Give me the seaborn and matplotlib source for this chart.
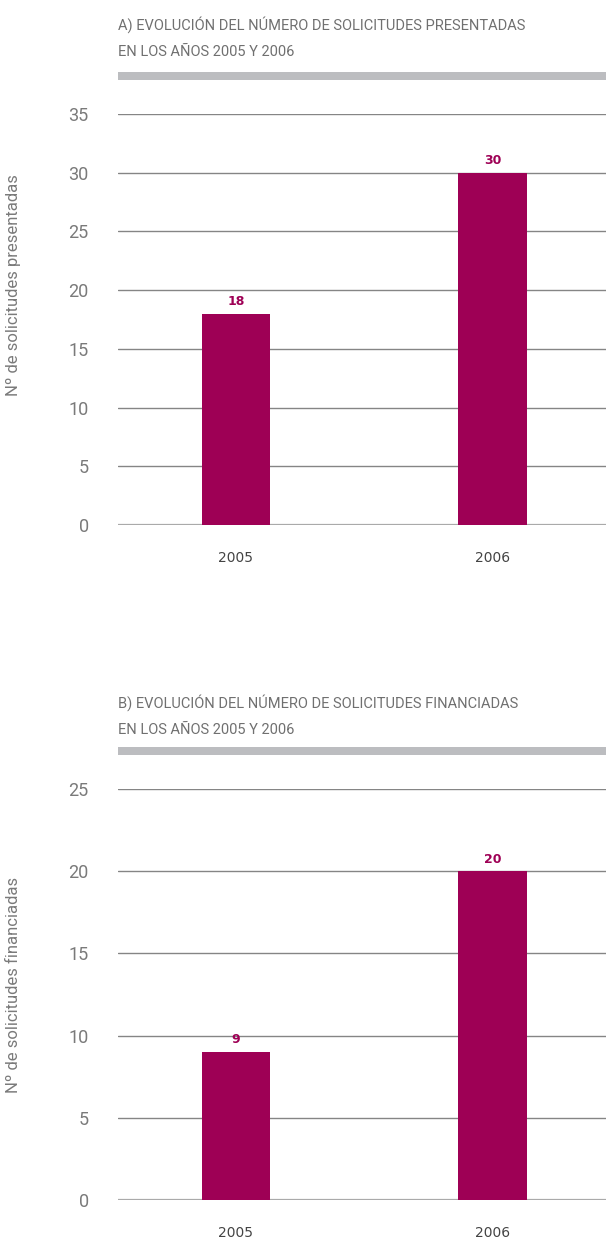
import matplotlib
matplotlib.use("Agg")
import matplotlib.pyplot as plt
from matplotlib.patches import Rectangle
import seaborn as sns
import pandas as pd

years = ["2005", "2006"]
presentadas = [18, 30]
financiadas = [9, 20]

titles = [
    ["A) EVOLUCIÓN DEL NÚMERO DE SOLICITUDES PRESENTADAS", "EN LOS AÑOS 2005 Y 2006"],
    ["B) EVOLUCIÓN DEL NÚMERO DE SOLICITUDES FINANCIADAS", "EN LOS AÑOS 2005 Y 2006"],
]
ylabels = ["Nº de solicitudes presentadas", "Nº de solicitudes financiadas"]
yticks_a = [0, 5, 10, 15, 20, 25, 30, 35]
yticks_b = [0, 5, 10, 15, 20, 25]

sns.set_style("white")
plt.rcParams["font.family"] = ["DejaVu Sans"]

BAR = "#9e0055"
GRAY_TXT = "#707070"
AXIS_TXT = "#7a7a7a"
THIN = ["Roboto", "DejaVu Sans"]

W, H = 606, 1241
fig = plt.figure(figsize=(W / 100, H / 100), dpi=100)


def fy(px):
    return 1 - px / H


def panel(top_px, bot_px, values, yticks, ylabel, title, title_y, band_y, label_y):
    ax = fig.add_axes([118 / W, fy(bot_px), 1 - 118 / W, (bot_px - top_px) / H])
    df = pd.DataFrame({"year": years, "n": values})
    sns.barplot(data=df, x="year", y="n", color=BAR, width=0.268, saturation=1,
                linewidth=0, ax=ax)
    ax.set_xlim(-0.459, 1.44)
    ax.set_ylim(0, yticks[-1])
    ax.set_yticks(yticks)
    for t in yticks:
        ax.axhline(t, color="#aaaaaa" if t == 0 else "#858585",
                   lw=1.6 if t == 0 else 1.0, zorder=0)
    sns.despine(ax=ax, left=True, bottom=True)
    ax.tick_params(length=0)
    ax.tick_params(axis="y", pad=21, labelsize=13, labelcolor=AXIS_TXT)
    ax.tick_params(axis="x", pad=19, labelsize=10, labelcolor="#444444")
    for lab in ax.get_yticklabels():
        lab.set_fontfamily(THIN)
        lab.set_fontweight("normal")
    ax.set_xlabel("")
    ax.set_ylabel(ylabel, fontsize=12, color=AXIS_TXT, family=THIN, fontweight="normal")
    ax.yaxis.set_label_coords(-0.198, label_y)
    for p, v in zip(ax.patches, values):
        ax.annotate(f"{v}", (p.get_x() + p.get_width() / 2, p.get_height()),
                    xytext=(0, 4), textcoords="offset points", ha="center", va="bottom",
                    fontsize=9, fontweight="bold", color=BAR)
    for line, yy in zip(title, title_y):
        fig.text(118 / W, fy(yy), line, ha="left", va="center", fontsize=10.5,
                 color=GRAY_TXT, family=THIN)
    fig.add_artist(Rectangle((118 / W, fy(band_y + 8)), 1 - 118 / W, 8 / H,
                             transform=fig.transFigure, color="#bcbdc0", lw=0))
    return ax


panel(114, 525, presentadas, yticks_a, ylabels[0], titles[0], (25, 52), 72, 0.584)
panel(789, 1200, financiadas, yticks_b, ylabels[1], titles[1], (703, 730), 747, 0.523)

fig.savefig("out.png", dpi=100)
